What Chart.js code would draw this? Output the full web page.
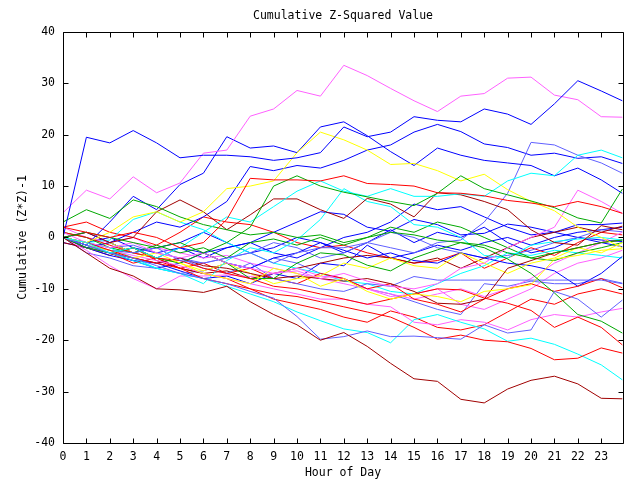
<!DOCTYPE html>
<html><head><meta charset="utf-8">
<script src="https://cdn.jsdelivr.net/npm/chart.js@4.4.1/dist/chart.umd.min.js"></script>
<style>html,body{margin:0;padding:0;background:#fff}canvas{display:block}</style>
</head><body>
<canvas id="c" width="640" height="480"></canvas>
<script>
const hours = [0,1,2,3,4,5,6,7,8,9,10,11,12,13,14,15,16,17,18,19,20,21,22,23,23.9];
const yTickValues = [-40,-30,-20,-10,0,10,20,30,40];
const titleText = 'Cumulative Z-Squared Value';
const xTitleText = 'Hour of Day';
const yTitleText = 'Cumulative (Z*Z)-1';

const A_magenta = [4.8,9.2,7.5,11.8,8.7,10.6,16.4,17,23.6,25,28.6,27.5,33.5,31.5,29,26.6,24.5,27.5,28,31,31.2,27.7,26.8,23.5,23.4];
const B_blue = [0,19.5,18.4,20.8,18.4,15.5,16,16,15.7,15,15.5,16.5,21.5,19.6,20.5,23.5,22.8,22.5,25,24,22,26,30.5,28.5,26.6];
const C_blue = [0,-1.5,3,8,5.4,10.3,12.5,19.6,17.4,17.8,16.5,21.5,22.5,19.8,16.7,14,17.4,16,15,14.5,14,12,13.5,11.2,8.6];
const D_blue = [0,-2,-1,1,3,2,4,7,13.8,13,14,13.5,15,17,18,20.5,22,20.6,18.2,17.5,16,16.4,15.4,15.7,14.4];
const D2_blue = [0,-2,-3.5,-4.5,-6,-5,-3,-5,-6,-4,-3,-1,-2.5,-4,-3,-4.5,-5,-3,-4,-5,-5.5,-6.5,-9.5,-7,-3.7];
const D3_blue = [0,-2,-1,-3,-2,-1,1,-1,-3,-2,0,-1,-3,-1,1.5,-1,1,0,2,-1,-3,-2,0,-1,-1.8];
const D4_blue = [0,1,-1,-3,-4,-2,-3,-2,-1,1,3,5,4.5,2,1.2,3.5,2.5,0.5,0.8,2.6,2,1,2.5,2.5,2.8];
const D5_blue = [-1,-2,-3,-4.5,-5,-6.5,-8,-7.5,-9,-7,-8,-5,-5.5,-1.5,-4,-3,-1.5,-2.5,-1,0,-1.5,0,1,1.5,2];
const D6_blue = [0,-1,0,-2,-3,-2,-4,-2,-1,-3,-4,-2,0,1,3,6.5,5.4,6,4,2,0.5,1,0,-0.5,-0.8];
const L1_slate = [0,-1.5,-3,-4,-5.5,-7,-8,-9,-10.5,-11.8,-15.4,-19.8,-19.3,-18.2,-19.3,-19.2,-19.5,-19.8,-17,-18.6,-18,-10.5,-12,-15.5,-12.2];
const L2_slate = [0,-1.5,-2.5,-3,-2,-4.5,-5,-4,-3,-5,-3,-2,-2,-1,-2,-3,-1,-0.5,3,8.6,18.5,18,16,14.5,12.5];
const L3_slate = [0,-2,-3,-4,-5,-4,-6,-7,-5,-8,-9,-10,-10.5,-9,-9.5,-7.6,-8.3,-8.3,-8.3,-8.3,-8.3,-8.3,-8.3,-8.3,-9];
const L4_slate = [0,-1,-2,-1.5,-3,-4,-5,-4,-3,-1,-2,-4,-3,-1,1,0,-2,-3,-4,-3.5,-2.5,-1,0,1.5,1.1];
const L5_slate = [0,-3,-4,-5.5,-6,-7,-6.5,-5,-6,-4,-5,-7,-8,-10,-11,-12.5,-14,-15,-9,-9.5,-8.5,-9,-9,-8,-8.9];
const Cy1_cyan = [0,-1,-3,-2,-4,-2,1,4,3,6,9,11,9,8,9.5,8,8,8.5,8,11,12.5,12,16,17,15.5];
const Cy2_cyan = [0,-1.5,-3,-4.5,-6,-7,-8,-9.5,-11,-12.5,-14.5,-16.2,-17.8,-18.5,-20.5,-16,-15,-16.5,-17.8,-20.2,-19.6,-20.8,-22.7,-24.8,-27.7];
const Cy3_cyan = [0,-1,-2,-4,-6,-7,-9,-4.5,-2,-3,-0.5,3.5,9.5,7,6,2.5,2,0,-3.5,-4,-1.5,-0.8,-0.3,0,-0.5];
const Cy4_cyan = [0,-1,-0.5,3.5,5,3,1.5,-1,-3,-5,-6,-7,-8.5,-9,-10.5,-11,-9,-7,-5.5,-3,-3.5,-2.5,-3,-3.5,-4];
const Y1_yellow = [0,-1,1,4,5,3,5,9.5,10,11,16.5,20.5,19,17,14.2,14.4,13,11,12.3,9.3,7,5.2,2,0,-2];
const Y2_yellow = [0,-1.5,-2.5,-4,-3,-5,-7,-8,-9,-6,-7,-9.5,-8,-10.5,-12,-11,-11.5,-12.5,-10.5,-10,-9.2,-4.2,-3.5,-2.5,-2.2];
const Y3_yellow = [0,-2,-1,-3,-4,-5,-6.5,-5,-7,-9,-8,-7.5,-5,-6,-4,-5.5,-6,-3,-5,-7,-5,-4,-2,-3,-1];
const G1_green = [0,1,0,-1,-2,-1,-3,-1,2,10,12,10,8.8,7.9,7,6.2,8.6,12,9.5,8.3,7.1,5.8,3.8,2.8,9.4];
const G2_green = [3,5.4,3.7,7.3,6,4,2.5,1.5,0.5,1,0,0.5,-1,0,1,0.5,-0.5,-1,-2,-4.2,-7,-10.8,-15,-16.3,-18.6];
const G3_green = [0,-2,-3,-2,-4,-5,-3,-5,-8,-8,-5,-3,-3.4,-5.4,-6.5,-4,-2.4,-1,-1.5,-3,-4,-3,-2,-1,-0.5];
const G4_green = [1,0,-2,-3,-1.5,-3,-2,-4,-1,-0.3,-1.5,0,-1.5,0,2,1,3,2,0,-2,-4,-4.5,-3,-2,-1];
const R1_red = [2,1,0,1,0,-2,-1,3.5,11.5,11.2,11.2,11,12,10.5,10.3,10,8.7,8.6,8.1,7.2,6.7,6,7,6,4.7];
const R2_red = [0,-1,-2.5,-4,-5,-6,-8,-9,-10,-11,-11.5,-12.5,-13.5,-14.5,-15.5,-17.5,-19.8,-19,-20,-20.3,-21.6,-23.8,-23.5,-21.5,-22.5];
const R3_red = [1,0,-1.5,-3,-4,-4.5,-6,-7,-8,-9.5,-10,-11,-12,-13,-12,-11,-10,-10.2,-11.8,-12.8,-14.2,-17.5,-15.5,-17.5,-20.9];
const R4_red = [0,-2,-3,-5,-4,-6,-5,-7,-6,-8,-9,-7,-8,-10,-9,-12,-13,-14.5,-12,-10,-9,-10.5,-9.5,-8,-9.8];
const R5_red = [2,3,1,0,-1.5,1,4,3,2.5,1,-1,-2,-1.5,-3,-4,-5,-4.5,-3,-6,-4,-2,-3.5,-1,1,0.5];
const R6_red = [0,-1.5,-3,-2,-4.5,-6,-7,-8,-10,-12,-13,-14,-15.5,-16.5,-14.3,-15.5,-17.5,-18,-17,-14.5,-12,-13,-11,-10,-11];
const DR1_darkred = [0,-3,-6,-7.5,-10,-10.2,-10.7,-9.5,-12.5,-15,-17,-20,-18.5,-21.2,-24.5,-27.5,-28,-31.5,-32.2,-29.5,-27.8,-27,-28.5,-31.3,-31.4];
const DR2_darkred = [0,1,-1,0,5,7.3,5,1.5,4.4,7.5,7.5,5.4,3.7,7.6,6.5,4,8.7,8.3,7,5.4,1.5,-1,-1.5,2.3,1.5];
const DR3_darkred = [0,-1.5,-3,-4,-5,-4,-5.5,-6,-7,-8,-7.5,-8,-8.5,-8,-9,-10.5,-12.8,-13,-12,-6,-4.5,-3,-2,-1,-0.5];
const DR4_darkred = [-1,-2,-3.5,-2,-4,-6,-7,-6.5,-8,-7,-6,-5,-4,-3.5,-4,-5,-4,-6,-4,-2,0,1,2,1,2.2];
const M2_magenta = [1,-1,-2,-1,-3,-4,-3,-5,-6,-7,-6.5,-8,-7,-8.5,-9.5,-10,-9,-6,-5,-2,0,2,9.2,7,4.7];
const M3_magenta = [0,-1,-2.5,-3.5,-4.5,-5.5,-7,-8,-9,-10,-11,-12,-12,-13,-13.5,-16.5,-17,-16,-16.5,-18,-16,-15,-15.5,-14.5,-13.8];
const M4_magenta = [0,-2.5,-5.5,-8,-10,-7.5,-7.5,-7.3,-7.6,-7,-6,-7.5,-8,-10,-11,-12,-11,-10,-11.5,-10,-8,-5,-3,-1,1];
const M5_magenta = [2,0,-1,0,-2,-3,-4,-3.5,-5,-6,-7,-8,-9,-10,-11.5,-11,-10,-13,-14,-12,-10,-7,-5,-4,-2.5];

const COLORS = {
  blue: '#0000ff', slate: '#6060ff', red: '#ff0000', darkred: '#a00000',
  green: '#00a800', magenta: '#ff60ff', cyan: '#00ffff', yellow: '#ffff00'
};

const seriesList = [
  [R1_red,'red'],[G1_green,'green'],[B_blue,'blue'],[A_magenta,'magenta'],[Cy1_cyan,'cyan'],
  [DR1_darkred,'darkred'],[Y1_yellow,'yellow'],[L1_slate,'slate'],
  [R2_red,'red'],[G2_green,'green'],[C_blue,'blue'],[M2_magenta,'magenta'],[Cy2_cyan,'cyan'],
  [DR2_darkred,'darkred'],[Y2_yellow,'yellow'],[L2_slate,'slate'],
  [R3_red,'red'],[G3_green,'green'],[D_blue,'blue'],[M3_magenta,'magenta'],[Cy3_cyan,'cyan'],
  [DR3_darkred,'darkred'],[Y3_yellow,'yellow'],[L3_slate,'slate'],
  [R4_red,'red'],[G4_green,'green'],[D2_blue,'blue'],[M4_magenta,'magenta'],[Cy4_cyan,'cyan'],
  [DR4_darkred,'darkred'],[L4_slate,'slate'],
  [R5_red,'red'],[D3_blue,'blue'],[M5_magenta,'magenta'],[L5_slate,'slate'],
  [R6_red,'red'],[D4_blue,'blue'],[D5_blue,'blue'],[D6_blue,'blue']
];

const FONT_FAMILY = "'DejaVu Sans Mono', 'Liberation Mono', monospace";
const FONT_SIZE = 11.5;

const datasets = seriesList.map(([vals, c]) => ({
  data: vals.map((v, i) => ({x: hours[i], y: v})),
  borderColor: COLORS[c],
  borderWidth: 1,
  pointRadius: 0,
  tension: 0,
  fill: false
}));

const frameTicks = {
  id: 'frameTicks',
  afterDatasetsDraw(chart) {
    const {ctx, chartArea: a, scales: {x, y}} = chart;
    ctx.save();
    ctx.strokeStyle = '#000';
    ctx.lineWidth = 1;
    ctx.beginPath();
    const L = Math.round(a.left) + 0.5, R = Math.round(a.right) + 0.5;
    const T = Math.round(a.top) + 0.5, B = Math.round(a.bottom) + 0.5;
    ctx.rect(L, T, R - L, B - T);
    const len = 5;
    x.ticks.forEach(t => {
      const px = Math.round(x.getPixelForValue(t.value)) + 0.5;
      ctx.moveTo(px, B); ctx.lineTo(px, B - len);
      ctx.moveTo(px, T); ctx.lineTo(px, T + len);
    });
    y.ticks.forEach(t => {
      const py = Math.round(y.getPixelForValue(t.value)) + 0.5;
      ctx.moveTo(L, py); ctx.lineTo(L + len, py);
      ctx.moveTo(R, py); ctx.lineTo(R - len, py);
    });
    ctx.stroke();
    ctx.restore();
  }
};

new Chart(document.getElementById('c'), {
  type: 'line',
  data: { datasets },
  options: {
    responsive: false,
    animation: false,
    devicePixelRatio: 1,
    parsing: true,
    layout: { padding: { left: 0, right: 17, top: 0, bottom: 0 } },
    plugins: {
      legend: { display: false },
      tooltip: { enabled: false },
      title: {
        display: true, text: titleText, color: '#000', fullSize: false,
        font: { family: FONT_FAMILY, size: FONT_SIZE, weight: 'normal' },
        padding: { top: 9.5, bottom: 8.6 }
      }
    },
    scales: {
      x: {
        type: 'linear', min: 0, max: 23.93,
        afterBuildTicks: s => { s.ticks = hours.filter(h => Number.isInteger(h)).map(h => ({value: h})); },
        afterFit: s => { s.height = 37; },
        grid: { display: false, drawTicks: false },
        border: { display: false },
        ticks: {
          color: '#000', padding: 7, autoSkip: false, maxRotation: 0,
          font: { family: FONT_FAMILY, size: FONT_SIZE },
          callback: v => String(v)
        },
        title: {
          display: true, text: xTitleText, color: '#000',
          font: { family: FONT_FAMILY, size: FONT_SIZE },
          padding: { top: 3.5, bottom: 0 }
        }
      },
      y: {
        type: 'linear', min: -40, max: 40,
        afterBuildTicks: s => { s.ticks = yTickValues.map(v => ({value: v})); },
        afterFit: s => { s.width = 63; },
        grid: { display: false, drawTicks: false },
        border: { display: false },
        ticks: {
          color: '#000', padding: 8,
          font: { family: FONT_FAMILY, size: FONT_SIZE },
          callback: v => String(v)
        },
        title: {
          display: true, text: yTitleText, color: '#000',
          font: { family: FONT_FAMILY, size: FONT_SIZE },
          padding: { top: 16, bottom: 0 }
        }
      }
    }
  },
  plugins: [frameTicks]
});
</script>
</body></html>
